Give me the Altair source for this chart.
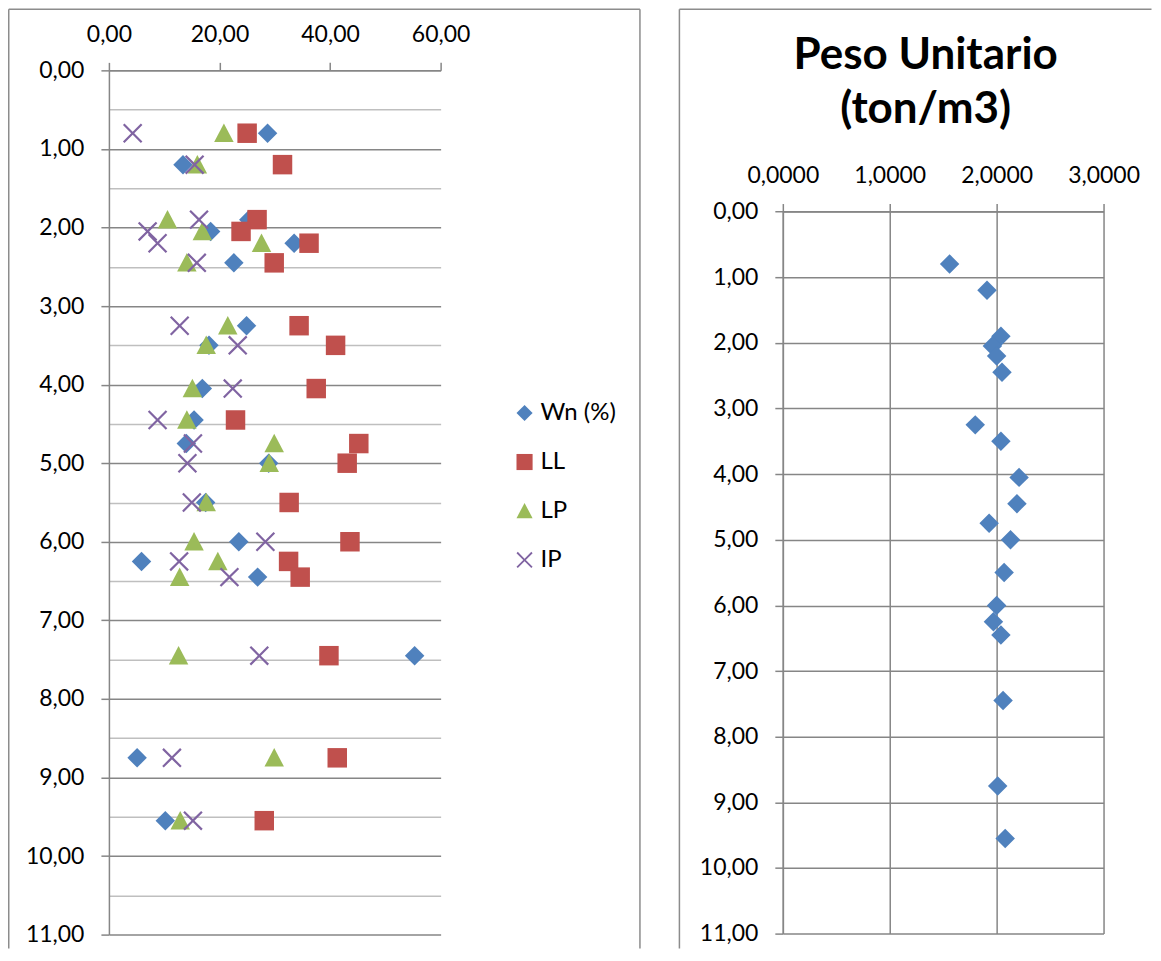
import altair as alt
import pandas as pd

# ---------------- data ----------------
depth = [0.80, 1.20, 1.90, 2.05, 2.20, 2.45, 3.25, 3.50, 4.05, 4.45,
         4.75, 5.00, 5.50, 6.00, 6.25, 6.45, 7.45, 8.75, 9.55]
wn = [28.7, 13.4, 25.3, 18.4, 33.5, 22.6, 24.9, 18.1, 16.9, 15.4,
      14.0, 28.9, 17.5, 23.5, 5.9, 26.9, 55.3, 5.1, 10.2]
ll = [25.0, 31.4, 26.8, 23.9, 36.2, 29.9, 34.4, 41.0, 37.5, 22.9,
      45.2, 43.1, 32.6, 43.6, 32.5, 34.6, 39.8, 41.3, 28.1]
lp = [20.8, 16.0, 10.6, 16.9, 27.6, 14.1, 21.5, 17.6, 15.1, 14.1,
      29.9, 29.0, 17.6, 15.4, 19.7, 12.8, 12.6, 29.9, 12.9]
ip = [4.3, 15.5, 16.3, 7.0, 8.8, 15.9, 12.8, 23.3, 22.4, 8.8,
      15.2, 14.2, 15.0, 28.3, 12.7, 21.8, 27.2, 11.4, 15.2]
peso = [1.56, 1.91, 2.04, 1.96, 2.00, 2.05, 1.80, 2.04, 2.21, 2.19,
        1.93, 2.13, 2.07, 2.00, 1.97, 2.04, 2.06, 2.01, 2.08]

series = ["Wn (%)", "LL", "LP", "IP"]
colors = ["#4F81BD", "#C0504D", "#9BBB59", "#8064A2"]
left_x_ticks = [0, 20, 40, 60]
right_x_ticks = [0, 1, 2, 3]
title_lines = ["Peso Unitario", "(ton/m3)"]

# ---------------- styling ----------------
FONT = "Lato"
GRAY = "#868686"
MINOR = "#BFBFBF"
BORDER = "#8C8C8C"
X_PATH = ("M-1,-0.84L-0.84,-1L0,-0.16L0.84,-1L1,-0.84L0.16,0L1,0.84"
          "L0.84,1L0,0.16L-0.84,1L-1,0.84L-0.16,0Z")
TRI_PATH = "M0,-1L1,0.9L-1,0.9Z"
shapes = ["diamond", "square", TRI_PATH, X_PATH]

rows = []
for s, vals in zip(series, [wn, ll, lp, ip]):
    for d, v in zip(depth, vals):
        rows.append({"serie": s, "valor": v, "prof": d})
df = pd.DataFrame(rows)
pdf = pd.DataFrame({"prof": depth, "peso": peso})
one = pd.DataFrame({"k": [0]})

fmt2 = "replace(format(datum.value, '.2f'), '.', ',')"
fmt4 = "replace(format(datum.value, '.4f'), '.', ',')"


def rule(x, x2, y, y2):
    return alt.Chart(one).mark_rule(color=BORDER, strokeWidth=1.5).encode(
        x=alt.value(x), x2=alt.value(x2), y=alt.value(y), y2=alt.value(y2))


# plot-area geometry (both panels share the same top because hconcat aligns origins)
H = 865           # left plot height (depth 0 -> 11)
RTOP = 141.3      # right panel: pixel offset of depth 0 below the shared top
RBOT = 864        # right panel: pixel of depth 11
BOT = 879         # bottom end of the panel borders (kept inside the page)
XPAD = 16         # label padding of the top (x) axes

# ---------------- left chart ----------------
LW = 332
legend = alt.Legend(title=None, orient="none", legendX=404, legendY=331,
                    symbolSize=260, labelFont=FONT, labelFontSize=24,
                    labelColor="black", rowPadding=25, labelOffset=4,
                    padding=0, symbolStrokeWidth=0)

left_points = alt.Chart(df).mark_point(filled=True, size=380, opacity=1).encode(
    x=alt.X("valor:Q",
            scale=alt.Scale(domain=[0, 60], nice=False, zero=False),
            axis=alt.Axis(orient="top", values=left_x_ticks, title=None,
                          labelExpr=fmt2, grid=False, labelPadding=XPAD)),
    y=alt.Y("prof:Q",
            scale=alt.Scale(domain=[0, 11], reverse=True, nice=False, zero=False),
            axis=alt.Axis(orient="left", values=[i * 0.5 for i in range(23)],
                          title=None,
                          labelExpr=f"datum.value % 1 == 0 ? {fmt2} : ''",
                          grid=True,
                          gridColor={"condition": {"test": "datum.value % 1 == 0", "value": GRAY},
                                     "value": MINOR},
                          tickOpacity={"condition": {"test": "datum.value % 1 == 0", "value": 1},
                                       "value": 0},
                          labelPadding=17)),
    color=alt.Color("serie:N", scale=alt.Scale(domain=series, range=colors), legend=legend),
    shape=alt.Shape("serie:N", scale=alt.Scale(domain=series, range=shapes), legend=legend),
)

left = alt.layer(
    rule(-100.25, -100.25, -61.25, BOT),
    rule(-100.25, 531.5, -61.25, -61.25),
    rule(531.5, 531.5, -61.25, BOT),
    left_points,
).properties(width=LW, height=H).resolve_scale(color="independent", shape="independent")

# ---------------- right chart ----------------
RW = 321
right_points = alt.Chart(pdf).mark_point(filled=True, shape="diamond", size=380,
                                         color="#4F81BD", opacity=1).encode(
    x=alt.X("peso:Q",
            scale=alt.Scale(domain=[0, 3], nice=False, zero=False),
            axis=alt.Axis(orient="top", values=right_x_ticks, title=None, offset=-RTOP,
                          labelExpr=fmt4, grid=True, gridColor=GRAY, labelPadding=XPAD)),
    y=alt.Y("prof:Q",
            scale=alt.Scale(domain=[0, 11], range=[RTOP, RBOT], nice=False, zero=False),
            axis=alt.Axis(orient="left", values=list(range(12)), title=None,
                          labelExpr=fmt2, grid=True, gridColor=GRAY, labelPadding=17)),
)


def title_text(txt, y):
    return alt.Chart(one).mark_text(font=FONT, fontSize=44, fontWeight="bold",
                                    color="black", align="center",
                                    baseline="alphabetic").encode(
        x=alt.value(143), y=alt.value(y), text=alt.value(txt))


right = alt.layer(
    rule(-103.5, -103.5, -61.25, BOT),
    rule(-103.5, 369, -61.25, -61.25),
    title_text(title_lines[0], -1),
    title_text(title_lines[1], 53),
    right_points,
).properties(width=RW, height=H)

chart = alt.hconcat(left, right, spacing=36.5).resolve_scale(
    color="independent", shape="independent"
).resolve_legend(color="independent", shape="independent").properties(
    padding=0, background="white"
).configure_view(stroke=None).configure_axis(
    domainColor=GRAY, domainWidth=1.5, tickColor=GRAY, tickWidth=1.5, tickSize=8,
    gridWidth=1.5, labelFont=FONT, labelFontSize=23, labelColor="black",
    labelFontWeight="normal", labelFlush=False, labelOverlap=False
)

chart.save("out.html", embed_options={"renderer": "svg", "actions": False})
